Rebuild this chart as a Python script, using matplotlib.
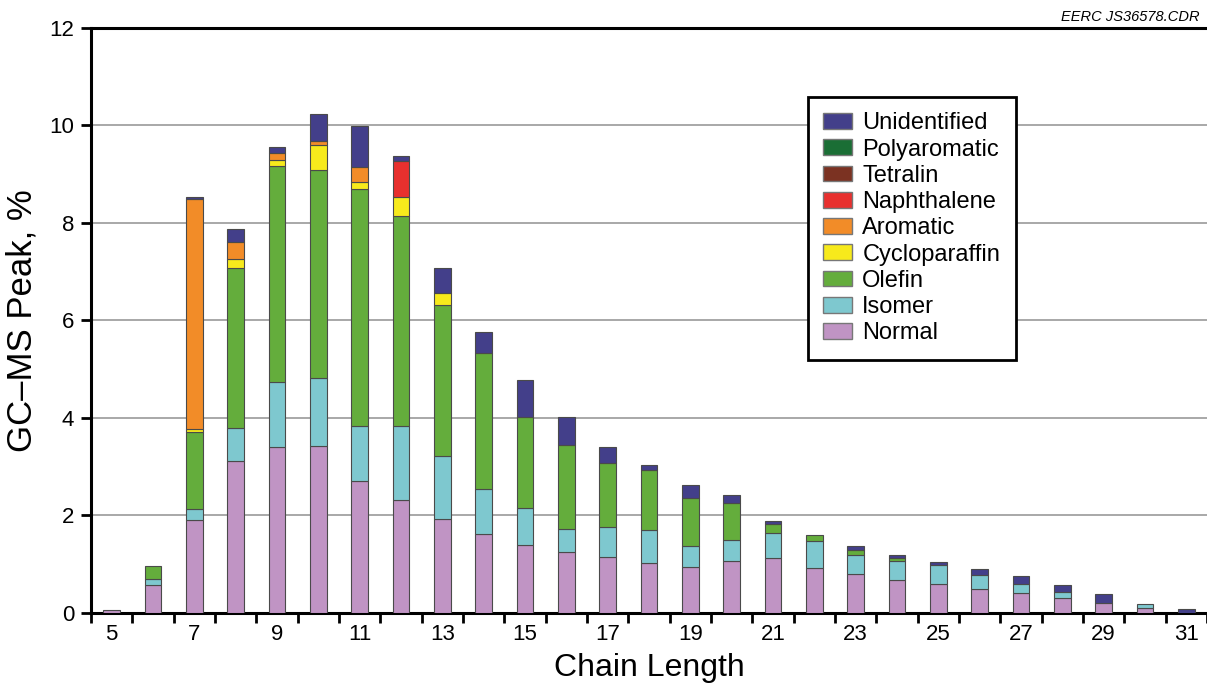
import matplotlib.pyplot as plt
import numpy as np
from matplotlib.patches import Patch

plt.rcParams['font.family'] = ['Liberation Sans', 'DejaVu Sans']

chain = np.arange(5, 32)

# GC-MS peak area (%) by compound class for each carbon chain length
normal = [0.06, 0.57, 1.91, 3.12, 3.41, 3.43, 2.71, 2.31, 1.93, 1.62, 1.39, 1.25, 1.14, 1.03,
          0.94, 1.06, 1.13, 0.93, 0.79, 0.68, 0.59, 0.50, 0.42, 0.31, 0.21, 0.10, 0.00]
isomer = [0.00, 0.12, 0.22, 0.68, 1.33, 1.38, 1.13, 1.53, 1.30, 0.92, 0.76, 0.47, 0.62, 0.67,
          0.43, 0.44, 0.52, 0.54, 0.40, 0.38, 0.39, 0.27, 0.18, 0.12, 0.00, 0.08, 0.00]
olefin = [0.00, 0.27, 1.58, 3.27, 4.42, 4.28, 4.86, 4.30, 3.08, 2.80, 1.86, 1.73, 1.32, 1.23,
          0.99, 0.76, 0.18, 0.12, 0.10, 0.07, 0.00, 0.00, 0.00, 0.00, 0.00, 0.00, 0.00]
cycloparaffin = [0.00, 0.00, 0.07, 0.19, 0.13, 0.51, 0.15, 0.39, 0.25, 0.00, 0.00, 0.00, 0.00, 0.00,
                 0.00, 0.00, 0.00, 0.00, 0.00, 0.00, 0.00, 0.00, 0.00, 0.00, 0.00, 0.00, 0.00]
aromatic = [0.00, 0.00, 4.71, 0.35, 0.15, 0.08, 0.29, 0.00, 0.00, 0.00, 0.00, 0.00, 0.00, 0.00,
            0.00, 0.00, 0.00, 0.00, 0.00, 0.00, 0.00, 0.00, 0.00, 0.00, 0.00, 0.00, 0.00]
naphthalene = [0.00, 0.00, 0.00, 0.00, 0.00, 0.00, 0.00, 0.74, 0.00, 0.00, 0.00, 0.00, 0.00, 0.00,
               0.00, 0.00, 0.00, 0.00, 0.00, 0.00, 0.00, 0.00, 0.00, 0.00, 0.00, 0.00, 0.00]
tetralin = [0.0] * 27
polyaromatic = [0.0] * 27
unidentified = [0.00, 0.00, 0.05, 0.27, 0.12, 0.56, 0.85, 0.10, 0.51, 0.43, 0.76, 0.56, 0.33, 0.11,
                0.27, 0.16, 0.06, 0.00, 0.08, 0.06, 0.07, 0.13, 0.15, 0.15, 0.17, 0.00, 0.09]

series = [
    ('Normal', normal, '#c094c4'),
    ('Isomer', isomer, '#7ec8cf'),
    ('Olefin', olefin, '#64ad3c'),
    ('Cycloparaffin', cycloparaffin, '#f7ea1c'),
    ('Aromatic', aromatic, '#f28c28'),
    ('Naphthalene', naphthalene, '#e8302e'),
    ('Tetralin', tetralin, '#7b3222'),
    ('Polyaromatic', polyaromatic, '#1a6e35'),
    ('Unidentified', unidentified, '#433f8a'),
]

fig = plt.figure(figsize=(12.07, 6.91), dpi=100)
ax = fig.add_axes([0.0754, 0.1129, 0.9246, 0.8466])

bottom = np.zeros(len(chain))
for name, vals, col in series:
    vals = np.array(vals)
    m = vals > 0
    ax.bar(chain[m], vals[m], bottom=bottom[m], width=0.4, color=col,
           edgecolor='#4a4a4a', linewidth=0.8, zorder=3)
    bottom += vals

ax.set_xlim(4.5, 31.4)
ax.set_ylim(0, 12)
ax.set_yticks(np.arange(0, 13, 2))
ax.yaxis.grid(True, color='#a8a8a8', linewidth=1.4, zorder=0)

# tick marks sit between bars, labels under odd chain lengths
ax.set_xticks(np.arange(4.5, 31.6, 1.0))
ax.set_xticklabels([])
ax.set_xticks(np.arange(5, 32, 2), minor=True)
ax.set_xticklabels([str(c) for c in range(5, 32, 2)], minor=True)
ax.tick_params(axis='x', which='major', length=7, width=2, direction='out')
ax.tick_params(axis='x', which='minor', length=0, labelsize=16, pad=8)
ax.tick_params(axis='y', length=7, width=2, direction='out', labelsize=16, pad=5)

for s in ['left', 'bottom', 'top']:
    ax.spines[s].set_linewidth(2.2)
ax.spines['right'].set_visible(False)

ax.set_xlabel('Chain Length', fontsize=23, labelpad=6)
ax.set_ylabel('GC\u2013MS Peak, %', fontsize=25, labelpad=8)

handles = [Patch(facecolor=col, edgecolor='#777777', label=name)
           for name, vals, col in series[::-1]]
leg = ax.legend(handles=handles, loc='upper left', bbox_to_anchor=(0.6425, 0.882),
                fontsize=17, frameon=True, fancybox=False, framealpha=1,
                edgecolor='black', labelspacing=0.18, handlelength=1.2,
                handleheight=0.65, handletextpad=0.45, borderpad=0.65,
                borderaxespad=0)
leg.get_frame().set_linewidth(2)
leg.set_zorder(5)

fig.text(0.994, 0.975, 'EERC JS36578.CDR', ha='right', va='center',
         fontsize=10.5, style='italic')

fig.savefig('out.png', dpi=100)
